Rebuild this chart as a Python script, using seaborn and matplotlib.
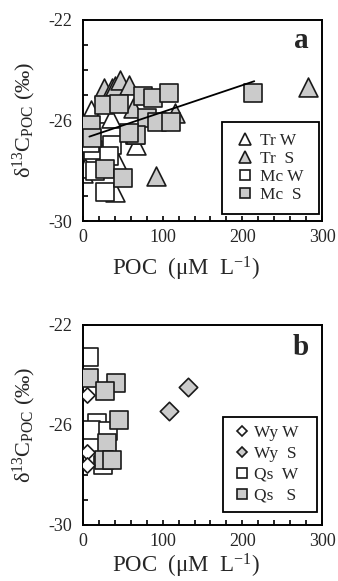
import numpy as np
import pandas as pd
import matplotlib
matplotlib.use('Agg')
import matplotlib.pyplot as plt
from matplotlib.lines import Line2D
from matplotlib.ticker import FixedLocator, FixedFormatter, MultipleLocator
import seaborn as sns

# ---------------- data ----------------
# panel a
tr_w_x = [0, 3, 10, 25, 35, 40, 44, 67]
tr_w_y = [-28.1, -27.9, -25.6, -25.7, -25.9, -28.85, -27.7, -27.0]
tr_s_x = [26, 36, 40, 46, 58, 63, 115, 92, 283]
tr_s_y = [-24.7, -24.7, -24.65, -24.42, -24.6, -25.5, -25.7, -28.2, -24.68]
mc_w_x = [37, 12, 15, 28, 9, 33, 65]
mc_w_y = [-27.0, -27.2, -28.0, -28.85, -26.9, -27.4, -26.6]
mc_s_x = [26, 45, 75, 88, 108, 214, 80, 93, 110, 66, 58, 10, 11, 28, 50]
mc_s_y = [-25.4, -25.35, -25.05, -25.1, -24.9, -24.9, -25.9, -26.05, -26.05,
          -26.6, -26.5, -26.2, -26.7, -27.95, -28.3]
trend_x = [8, 215]
trend_y = [-26.65, -24.45]

# panel b
wy_w_x = [5, 5, 5]
wy_w_y = [-24.8, -27.1, -27.6]
wy_s_x = [108, 132]
wy_s_y = [-25.45, -24.5]
qs_w_x = [8, 17, 10, 32, 25]
qs_w_y = [-23.3, -25.95, -26.2, -26.25, -27.6]
qs_s_x = [8, 42, 28, 45, 30, 26, 36]
qs_s_y = [-24.15, -24.33, -24.65, -25.8, -26.75, -27.4, -27.4]

legend_a = ['Tr W', 'Tr  S', 'Mc W', 'Mc  S']
legend_b = ['Wy W', 'Wy  S', 'Qs  W', 'Qs   S']

x_ticks = [0, 100, 200, 300]
x_ticklabels = ['0', '100', '200', '300']
y_ticks = [-30, -26, -22]
y_ticklabels = ['-30', '-26', '-22']

# ---------------- style ----------------
sns.set_style('ticks')
plt.rcParams['font.family'] = ['Liberation Serif', 'DejaVu Serif']
plt.rcParams['mathtext.fontset'] = 'custom'
plt.rcParams['mathtext.rm'] = 'Liberation Serif'
plt.rcParams['mathtext.it'] = 'Liberation Serif:italic'
plt.rcParams['mathtext.bf'] = 'Liberation Serif:bold'
plt.rcParams['axes.unicode_minus'] = False

EDGE = '#1a1a1a'
GRAY = '#cbcbcb'
WHITE = '#ffffff'

fig = plt.figure(figsize=(3.38, 5.81), dpi=100)
W, H = 338.0, 581.0
ax_a = fig.add_axes([83 / W, 1 - 221 / H, 239 / W, 201.5 / H])
ax_b = fig.add_axes([83 / W, 1 - 524.5 / H, 239 / W, 200 / H])


def pts(xs, ys):
    return pd.DataFrame({'POC': xs, 'd13C': ys})


def scat(ax, xs, ys, marker, fill, size, z):
    sns.scatterplot(data=pts(xs, ys), x='POC', y='d13C', marker=marker, s=size,
                    color=fill, edgecolor=EDGE, linewidth=1.2, ax=ax,
                    legend=False, zorder=z)


# panel a
scat(ax_a, tr_w_x, tr_w_y, '^', WHITE, 185, 2)
scat(ax_a, tr_s_x, tr_s_y, '^', GRAY, 185, 3)
scat(ax_a, mc_w_x, mc_w_y, 's', WHITE, 162, 4)
scat(ax_a, mc_s_x, mc_s_y, 's', GRAY, 162, 5)
sns.lineplot(x=trend_x, y=trend_y, color='black', lw=1.3, ax=ax_a, zorder=6)

# panel b
scat(ax_b, qs_w_x, qs_w_y, 's', WHITE, 162, 2)
scat(ax_b, qs_s_x, qs_s_y, 's', GRAY, 162, 3)
scat(ax_b, wy_w_x, wy_w_y, 'D', WHITE, 60, 4)
scat(ax_b, wy_s_x, wy_s_y, 'D', GRAY, 88, 5)


def style_axes(ax, letter, ly, xly):
    ax.set_xlim(0, 300)
    ax.set_ylim(-30, -22)
    ax.xaxis.set_major_locator(FixedLocator(x_ticks))
    ax.xaxis.set_major_formatter(FixedFormatter(x_ticklabels))
    ax.xaxis.set_minor_locator(MultipleLocator(20))
    ax.yaxis.set_major_locator(FixedLocator(y_ticks))
    ax.yaxis.set_major_formatter(FixedFormatter(y_ticklabels))
    ax.yaxis.set_minor_locator(MultipleLocator(1))
    ax.tick_params(which='both', direction='in', length=3.8, width=1.2,
                   color='black', top=False, right=False)
    ax.tick_params(axis='x', which='major', labelsize=13, pad=6)
    ax.tick_params(axis='y', which='major', labelsize=13, pad=8)
    for sp in ax.spines.values():
        sp.set_linewidth(1.4)
        sp.set_color('black')
        sp.set_visible(True)
    ax.set_xlabel('POC  (μM  L$^{-1}$)', fontsize=16.5)
    ax.set_ylabel('δ$^{13}$C$_{\\rm POC}$ (‰)', fontsize=16)
    ax.xaxis.set_label_coords(0.43, xly)
    ax.yaxis.set_label_coords(-0.19, 0.5)
    ax.text(0.912, ly, letter, transform=ax.transAxes, fontsize=21,
            fontweight='bold', ha='center', va='center')


style_axes(ax_a, 'a', 0.895, -0.17)
style_axes(ax_b, 'b', 0.886, -0.135)


def make_legend(ax, labels, markers, fills, sizes, anchor, spacing, hlen, tpad,
                bpad):
    handles = [Line2D([], [], ls='none', marker=m, mfc=f, mec=EDGE, mew=1.2,
                      ms=s, label=l)
               for l, m, f, s in zip(labels, markers, fills, sizes)]
    leg = ax.legend(handles=handles, loc='lower left', bbox_to_anchor=anchor,
                    mode='expand', borderaxespad=0, frameon=True,
                    fancybox=False, edgecolor='black', framealpha=1,
                    fontsize=12.5, handlelength=hlen, handletextpad=tpad,
                    labelspacing=spacing, borderpad=bpad)
    leg.get_frame().set_linewidth(1.3)
    leg.set_zorder(10)


make_legend(ax_a, legend_a, ['^', '^', 's', 's'], [WHITE, GRAY, WHITE, GRAY],
            [8, 8, 7, 7], (0.582, 0.035, 0.407, 0.5), 0.1, 1.3, 0.25, 0.65)
make_legend(ax_b, legend_b, ['D', 'D', 's', 's'], [WHITE, GRAY, WHITE, GRAY],
            [5, 5, 7.5, 7.5], (0.587, 0.064, 0.391, 0.5), 0.28, 1.2, 0.1,
            0.45)

fig.savefig('out.png', dpi=100)
